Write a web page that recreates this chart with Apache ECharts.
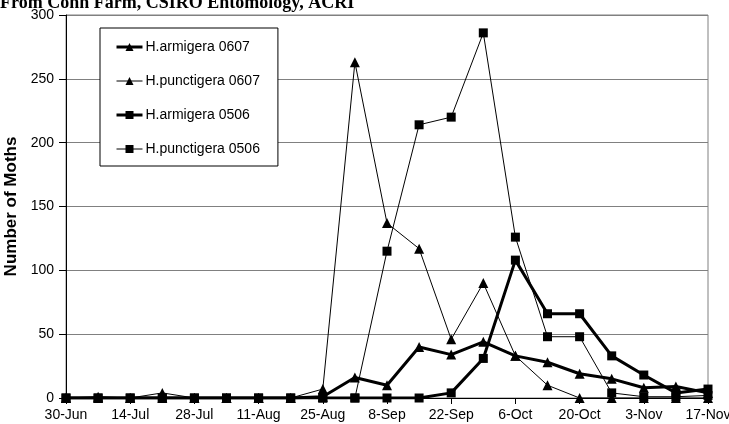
<!DOCTYPE html>
<html>
<head>
<meta charset="utf-8">
<script src="https://cdn.jsdelivr.net/npm/echarts@6/dist/echarts.min.js"></script>
<style>
html,body{margin:0;padding:0;background:#fff;}
#c{width:729px;height:424px;}
</style>
</head>
<body>
<div id="c"></div>
<script>
const titleText = 'From Conn Farm, CSIRO Entomology, ACRI';
const yAxisName = 'Number of Moths';
const categories = ['30-Jun','7-Jul','14-Jul','21-Jul','28-Jul','4-Aug','11-Aug','18-Aug','25-Aug','1-Sep','8-Sep','15-Sep','22-Sep','29-Sep','6-Oct','13-Oct','20-Oct','27-Oct','3-Nov','10-Nov','17-Nov'];
const seriesNames = ['H.armigera 0607','H.punctigera 0607','H.armigera 0506','H.punctigera 0506'];
const armigera0607 = [0,0,0,0,0,0,0,0,1,16,10,40,34,44,33,28,19,15,8,9,4];
const punctigera0607 = [0,1,0,4,0,0,0,0,7,263,137,117,46,90,33,10,0,0,0,0,0];
const armigera0506 = [0,0,0,0,0,0,0,0,0,0,0,0,4,31,108,66,66,33,18,4,7];
const punctigera0506 = [0,0,0,0,0,0,0,0,0,0,115,214,220,286,126,48,48,4,1,1,2];

const widths = [3, 1, 3, 1];
const symbols = ['triangle', 'triangle', 'rect', 'rect'];
const sizes = [10, 10, 9, 9];
const dataSets = [armigera0607, punctigera0607, armigera0506, punctigera0506];

const chart = echarts.init(document.getElementById('c'));
chart.setOption({
  animation: false,
  title: {
    text: titleText, left: 0, top: -6, padding: 0,
    textStyle: {fontFamily: 'Liberation Serif', fontWeight: 'bold', fontSize: 18, color: '#000'}
  },
  grid: {left: 66, right: 21, top: 15, bottom: 26, outerBoundsMode: 'none', containLabel: false,
         show: true, borderColor: '#808080', borderWidth: 1},
  legend: {
    orient: 'vertical', left: 100, top: 28,
    padding: [12, 18, 10, 15], itemGap: 20, itemWidth: 26, itemHeight: 10,
    borderColor: '#000', borderWidth: 1, backgroundColor: '#fff',
    textStyle: {fontFamily: 'Liberation Sans', fontSize: 14, color: '#000', padding: [0,0,0,-2]},
    data: seriesNames.map((n, i) => ({
      name: n,
      lineStyle: {width: widths[i], color: '#000'},
      itemStyle: {color: '#000'}
    }))
  },
  xAxis: {
    type: 'category', data: categories, boundaryGap: false,
    axisLine: {lineStyle: {color: '#000', width: 1}},
    axisTick: {show: true, interval: 1, length: 6, lineStyle: {color: '#000'}},
    axisLabel: {interval: 1, margin: 10, fontFamily: 'Liberation Sans', fontSize: 14, color: '#000'},
    splitLine: {show: false}
  },
  yAxis: {
    type: 'value', min: 0, max: 300, interval: 50,
    name: yAxisName, nameLocation: 'middle', nameGap: 34, nameRotate: 90,
    nameTextStyle: {fontFamily: 'Liberation Sans', fontWeight: 'bold', fontSize: 17, color: '#000'},
    axisLine: {show: true, lineStyle: {color: '#000', width: 1}},
    axisTick: {show: true, length: 7, lineStyle: {color: '#000'}},
    axisLabel: {margin: 12, fontFamily: 'Liberation Sans', fontSize: 14, color: '#000'},
    splitLine: {show: true, lineStyle: {color: '#808080', width: 1}}
  },
  series: seriesNames.map((n, i) => ({
    name: n, type: 'line', data: dataSets[i], symbol: symbols[i], symbolSize: sizes[i],
    showAllSymbol: true,
    lineStyle: {color: '#000', width: widths[i]},
    itemStyle: {color: '#000', borderWidth: 0},
    emphasis: {disabled: true}
  }))
});
</script>
</body>
</html>
